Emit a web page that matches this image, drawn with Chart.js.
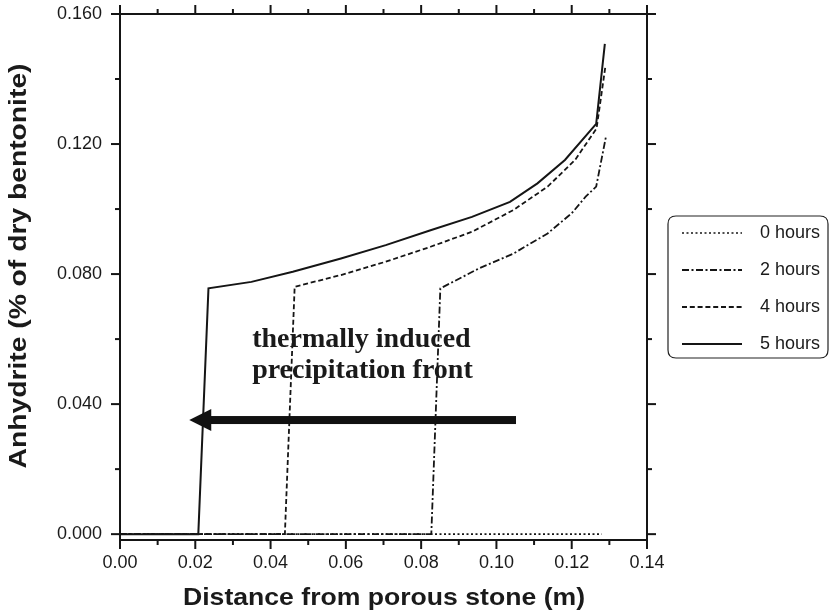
<!DOCTYPE html>
<html>
<head>
<meta charset="utf-8">
<script src="https://cdn.jsdelivr.net/npm/chart.js@4/dist/chart.umd.min.js"></script>
<style>
html,body{margin:0;padding:0;background:#fff;}
canvas{display:block;}
</style>
</head>
<body>
<canvas id="c" width="829" height="615"></canvas>
<script>
// ---- data ----
const seriesNames = ["0 hours", "2 hours", "4 hours", "5 hours"];

const h0x = [0, 0.128];
const h0y = [0, 0];

const h2x = [0, 0.0827, 0.0851, 0.0953, 0.1045, 0.1136, 0.1200, 0.1237, 0.1265, 0.1291];
const h2y = [0, 0, 0.0756, 0.0817, 0.0863, 0.0925, 0.0987, 0.1038, 0.1069, 0.1223];

const h4x = [0, 0.0438, 0.0464, 0.0587, 0.0706, 0.0825, 0.0935, 0.1045, 0.1136, 0.1209, 0.1266, 0.1290];
const h4y = [0, 0, 0.0761, 0.0797, 0.0838, 0.0884, 0.0930, 0.0997, 0.1069, 0.1151, 0.1248, 0.1443];

const h5x = [0, 0.0208, 0.0235, 0.0349, 0.0459, 0.0587, 0.0706, 0.0825, 0.0935, 0.1036, 0.1109, 0.1182, 0.1265, 0.1288];
const h5y = [0, 0, 0.0756, 0.0776, 0.0807, 0.0848, 0.0889, 0.0935, 0.0976, 0.1022, 0.1079, 0.1151, 0.1262, 0.1508];

const xMajorTicks = [0, 0.02, 0.04, 0.06, 0.08, 0.10, 0.12, 0.14];
const xMinorTicks = [0.01, 0.03, 0.05, 0.07, 0.09, 0.11, 0.13];
const yMajorTicks = [0, 0.04, 0.08, 0.12, 0.16];
const yMinorTicks = [0.02, 0.06, 0.10, 0.14];

const xTitle = 'Distance from porous stone (m)';
const yTitle = 'Anhydrite (% of dry bentonite)';

const annotationLines = ["thermally induced", "precipitation front"];
const annotationAnchor = [0.0351, 0.0576];   // data coords of first line baseline start
const annotationLine2Y = 0.0479;
const arrowFrom = [0.1052, 0.0351];
const arrowTo = [0.0184, 0.0351];

// ---- build ----
const zip = (xs, ys) => xs.map((x, i) => ({x: x, y: ys[i]}));
const INK = '#151515';
const SANS = '"Liberation Sans", Arial, Helvetica, sans-serif';
const styles = [
  {borderDash: [2, 2.5], borderWidth: 1.6},
  {borderDash: [7, 2.5, 2, 2.5], borderWidth: 1.8},
  {borderDash: [5, 2.8], borderWidth: 1.8},
  {borderDash: [], borderWidth: 2}
];
const allData = [zip(h0x, h0y), zip(h2x, h2y), zip(h4x, h4y), zip(h5x, h5y)];
const datasets = seriesNames.map((n, i) => ({
  label: n,
  data: allData[i],
  showLine: true,
  borderColor: INK,
  backgroundColor: INK,
  borderWidth: styles[i].borderWidth,
  borderDash: styles[i].borderDash,
  pointRadius: 0,
  tension: 0,
  fill: false
}));

function stretchedText(ctx, text, cx, cy, targetW, rotate) {
  ctx.save();
  ctx.translate(cx, cy);
  if (rotate) ctx.rotate(-Math.PI / 2);
  const w = ctx.measureText(text).width;
  ctx.scale(targetW / w, 1);
  ctx.textAlign = 'center';
  ctx.textBaseline = 'middle';
  ctx.fillText(text, 0, 0);
  ctx.restore();
}

const framePlugin = {
  id: 'frame',
  afterDatasetsDraw(chart) {
    const ctx = chart.ctx, a = chart.chartArea;
    const xs = chart.scales.x, ys = chart.scales.y;
    ctx.save();
    ctx.strokeStyle = INK;
    ctx.lineWidth = 2;
    ctx.setLineDash([]);
    ctx.strokeRect(a.left, a.top, a.right - a.left, a.bottom - a.top);
    const tick = (x1, y1, x2, y2) => { ctx.beginPath(); ctx.moveTo(x1, y1); ctx.lineTo(x2, y2); ctx.stroke(); };
    xMajorTicks.forEach(v => { const p = xs.getPixelForValue(v); tick(p, a.bottom, p, a.bottom + 9); tick(p, a.top, p, a.top - 9); });
    xMinorTicks.forEach(v => { const p = xs.getPixelForValue(v); tick(p, a.bottom, p, a.bottom + 5); tick(p, a.top, p, a.top - 5); });
    yMajorTicks.forEach(v => { const p = ys.getPixelForValue(v); tick(a.left, p, a.left - 9, p); tick(a.right, p, a.right + 9, p); });
    yMinorTicks.forEach(v => { const p = ys.getPixelForValue(v); tick(a.left, p, a.left - 5, p); tick(a.right, p, a.right + 5, p); });

    // axis titles
    ctx.fillStyle = '#1a1a1a';
    ctx.font = 'bold 24px ' + SANS;
    stretchedText(ctx, xTitle, 384, 598, 402, false);
    stretchedText(ctx, yTitle, 19, 266, 405, true);

    // annotation text
    ctx.fillStyle = '#1a1a1a';
    ctx.font = 'bold 28px "Liberation Serif", "Times New Roman", serif';
    ctx.textAlign = 'left';
    ctx.textBaseline = 'alphabetic';
    const tx = xs.getPixelForValue(annotationAnchor[0]);
    ctx.fillText(annotationLines[0], tx, ys.getPixelForValue(annotationAnchor[1]));
    ctx.fillText(annotationLines[1], tx, ys.getPixelForValue(annotationLine2Y));

    // arrow
    const fx = xs.getPixelForValue(arrowFrom[0]), fy = ys.getPixelForValue(arrowFrom[1]);
    const toX = xs.getPixelForValue(arrowTo[0]), toY = ys.getPixelForValue(arrowTo[1]);
    const headLen = 22, headHalf = 11, shaft = 8;
    ctx.fillStyle = '#111';
    ctx.fillRect(toX + headLen - 2, fy - shaft / 2, fx - (toX + headLen - 2), shaft);
    ctx.beginPath();
    ctx.moveTo(toX, toY);
    ctx.lineTo(toX + headLen, toY - headHalf);
    ctx.lineTo(toX + headLen, toY + headHalf);
    ctx.closePath();
    ctx.fill();

    // legend
    const lx = 668, ly = 216, lw = 160, lh = 142, r = 8;
    ctx.lineWidth = 1.2;
    ctx.strokeStyle = '#222';
    ctx.beginPath();
    ctx.moveTo(lx + r, ly);
    ctx.lineTo(lx + lw - r, ly);
    ctx.quadraticCurveTo(lx + lw, ly, lx + lw, ly + r);
    ctx.lineTo(lx + lw, ly + lh - r);
    ctx.quadraticCurveTo(lx + lw, ly + lh, lx + lw - r, ly + lh);
    ctx.lineTo(lx + r, ly + lh);
    ctx.quadraticCurveTo(lx, ly + lh, lx, ly + lh - r);
    ctx.lineTo(lx, ly + r);
    ctx.quadraticCurveTo(lx, ly, lx + r, ly);
    ctx.stroke();
    ctx.font = '18px ' + SANS;
    ctx.textAlign = 'left';
    ctx.textBaseline = 'middle';
    ctx.fillStyle = '#1a1a1a';
    chart.data.datasets.forEach((ds, i) => {
      const ry = ly + 17 + i * 37;
      ctx.strokeStyle = INK;
      ctx.lineWidth = ds.borderWidth;
      ctx.setLineDash(ds.borderDash);
      ctx.beginPath(); ctx.moveTo(682, ry); ctx.lineTo(742, ry); ctx.stroke();
      ctx.setLineDash([]);
      ctx.fillText(ds.label, 760, ry);
    });
    ctx.restore();
  }
};

new Chart(document.getElementById('c'), {
  type: 'scatter',
  data: {datasets: datasets},
  options: {
    responsive: false,
    animation: false,
    devicePixelRatio: 1,
    layout: {padding: {top: 14, right: 182, bottom: 0, left: 0}},
    plugins: {legend: {display: false}, tooltip: {enabled: false}},
    scales: {
      x: {
        type: 'linear', min: 0, max: 0.14,
        grid: {display: false},
        border: {display: false},
        afterBuildTicks: s => { s.ticks = xMajorTicks.map(v => ({value: v})); },
        afterFit: s => { s.height = 75; s.paddingLeft = 0; s.paddingRight = 0; },
        ticks: {
          padding: 4, color: '#1a1a1a', maxRotation: 0,
          font: {family: SANS, size: 18},
          callback: v => Number(v).toFixed(2)
        }
      },
      y: {
        type: 'linear', min: -0.0018, max: 0.16,
        grid: {display: false},
        border: {display: false},
        afterBuildTicks: s => { s.ticks = yMajorTicks.map(v => ({value: v})); },
        afterFit: s => { s.width = 120; s.paddingTop = 0; s.paddingBottom = 0; },
        ticks: {
          padding: 10, color: '#1a1a1a',
          font: {family: SANS, size: 18},
          callback: v => Number(v).toFixed(3)
        }
      }
    }
  },
  plugins: [framePlugin]
});
</script>
</body>
</html>
